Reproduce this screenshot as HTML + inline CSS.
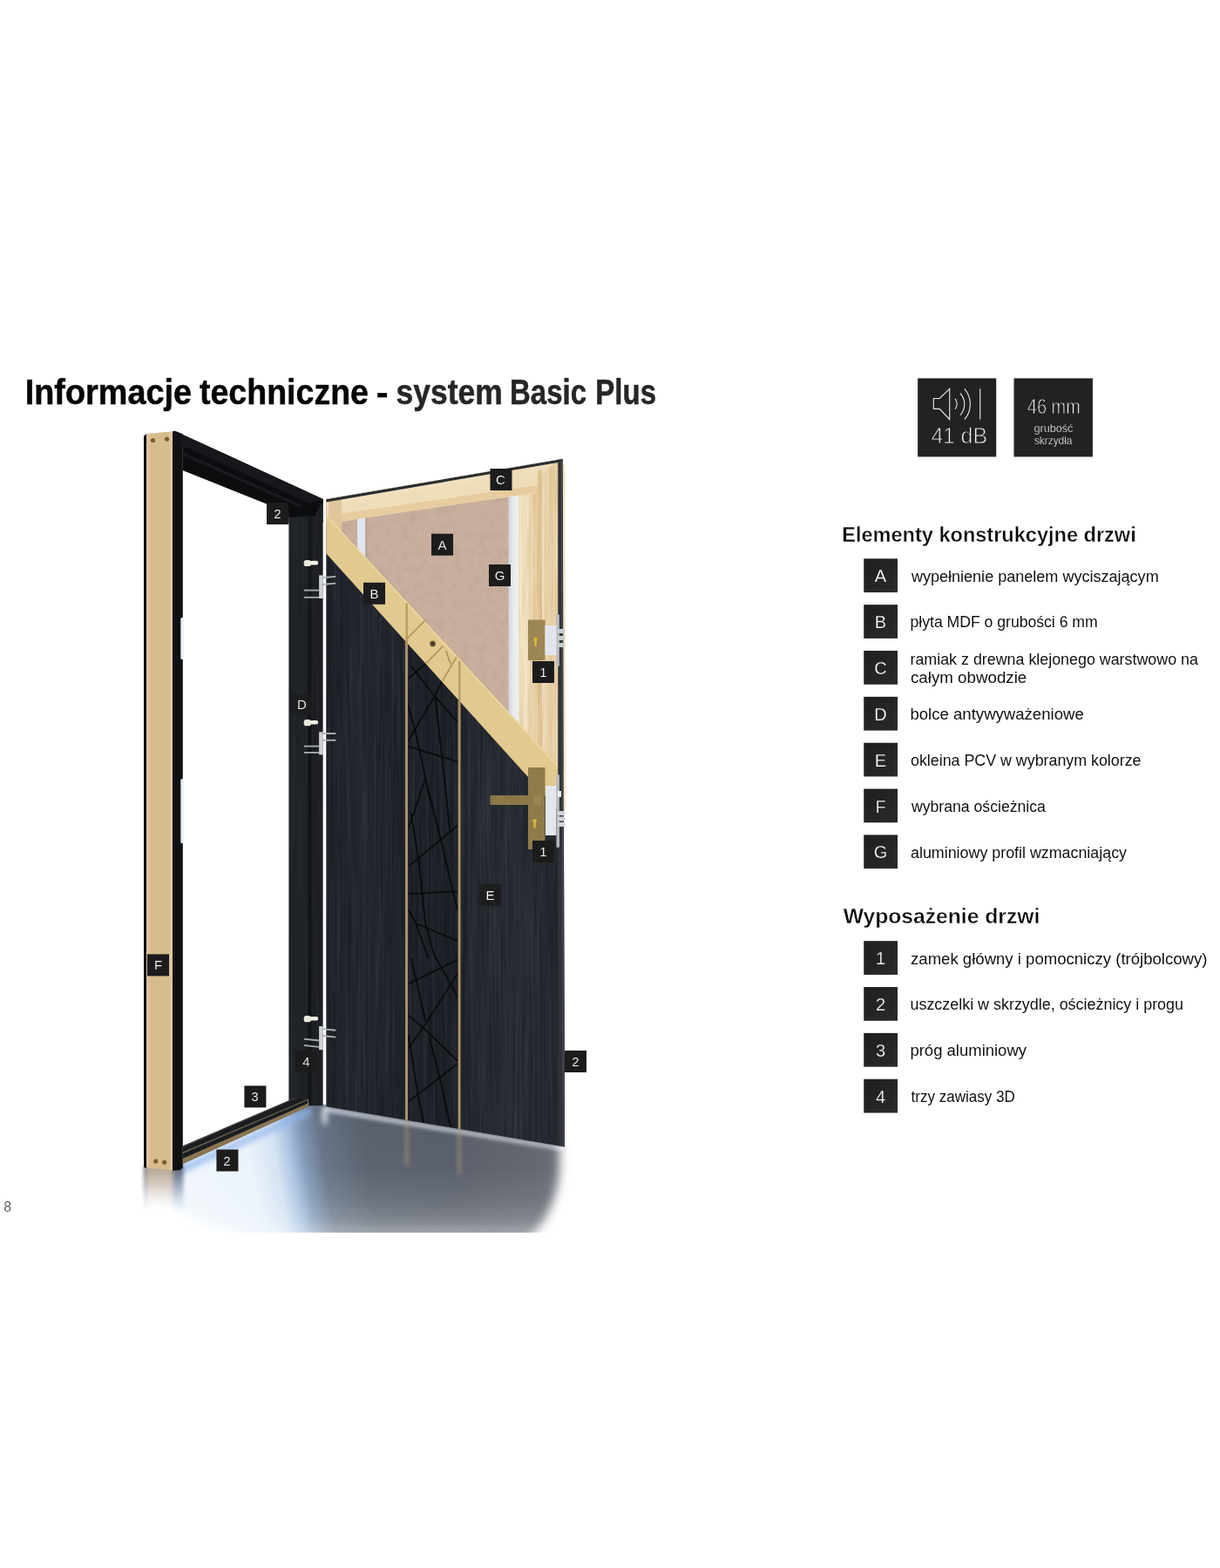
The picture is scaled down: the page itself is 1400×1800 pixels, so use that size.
<!DOCTYPE html>
<html lang="pl"><head><meta charset="utf-8"><title>Informacje techniczne - system Basic Plus</title>
<style>
html,body{margin:0;padding:0;background:#fff;}
body{width:1400px;height:1800px;overflow:hidden;position:relative;font-family:"Liberation Sans",sans-serif;color:#000;}
.page{position:absolute;left:0;top:0;width:1400px;height:1800px;overflow:hidden;background:#fff;}
svg.door{position:absolute;left:0;top:0;}
h1{position:absolute;left:0;margin:0;width:800px;height:48px;font-size:40px;line-height:48px;font-weight:bold;white-space:nowrap;color:#060606}
h1 .tw{position:absolute;left:0;top:0;display:block;transform-origin:0 0;-webkit-text-stroke:0.5px #060606;}
h1 .g{color:#262626;-webkit-text-stroke:0.5px #262626;}
h2{position:absolute;left:0;top:0;margin:0;font-size:24px;line-height:28px;font-weight:bold;white-space:nowrap;transform-origin:0 0;color:#0a0a0a;-webkit-text-stroke:0.35px #fff;}
.dl{position:absolute;width:25px;height:25px;color:#fff;font-size:15px;line-height:25.8px;text-align:center;-webkit-text-stroke:0.15px #1c1c1d;}
.dl span,.lb span{display:block;transform:translateZ(0);}
.ib svg{display:block;transform:translateZ(0);}
.lb{position:absolute;left:991px;width:39px;height:39px;color:#fff;font-size:20px;line-height:40.5px;text-align:center;-webkit-text-stroke:0.25px #242424;}
.lt{position:absolute;left:0;top:0;font-size:17.5px;line-height:20px;white-space:nowrap;transform-origin:0 0;color:#111;}
.ib{position:absolute;top:430px;width:100px;height:100px;}
.pn{position:absolute;left:0;top:0;font-size:16px;line-height:18px;color:#3a3a3a;transform:translate3d(4.2px,1377px,0);-webkit-text-stroke:0.2px #fff;}
</style></head><body>
<div class="page">
<svg class="door" width="1400" height="1800" viewBox="0 0 1400 1800">
<defs>
<linearGradient id="gFloorH" gradientUnits="userSpaceOnUse" x1="175" y1="0" x2="675" y2="0" gradientTransform="translate(0 1415) skewX(9) translate(0 -1415)">
 <stop offset="0" stop-color="#f6f9fd"/>
 <stop offset="0.10" stop-color="#f1f6fc"/>
 <stop offset="0.25" stop-color="#eaf2fb"/>
 <stop offset="0.31" stop-color="#d4e2f2"/>
 <stop offset="0.345" stop-color="#a9c2e0"/>
 <stop offset="0.375" stop-color="#8199b8"/>
 <stop offset="0.42" stop-color="#667385"/>
 <stop offset="0.52" stop-color="#58606c"/>
 <stop offset="0.72" stop-color="#575d68"/>
 <stop offset="0.90" stop-color="#60646c"/>
 <stop offset="1" stop-color="#6c7078"/>
</linearGradient>
<linearGradient id="gFloorV" gradientUnits="userSpaceOnUse" x1="0" y1="1270" x2="0" y2="1415">
 <stop offset="0" stop-color="#fff" stop-opacity="0"/>
 <stop offset="0.5" stop-color="#fff" stop-opacity="0.03"/>
 <stop offset="0.75" stop-color="#fff" stop-opacity="0.12"/>
 <stop offset="0.9" stop-color="#fff" stop-opacity="0.24"/>
 <stop offset="1" stop-color="#fff" stop-opacity="0.42"/>
</linearGradient>
<radialGradient id="gFadeR" gradientUnits="userSpaceOnUse" cx="700" cy="1430" r="160" gradientTransform="translate(700 1430) scale(1 1.0) translate(-700 -1430)">
 <stop offset="0" stop-color="#fff" stop-opacity="1"/>
 <stop offset="0.45" stop-color="#fff" stop-opacity="1"/>
 <stop offset="1" stop-color="#fff" stop-opacity="0"/>
</radialGradient>
<radialGradient id="gFadeL" gradientUnits="userSpaceOnUse" cx="150" cy="1440" r="190">
 <stop offset="0" stop-color="#fff" stop-opacity="1"/>
 <stop offset="0.5" stop-color="#fff" stop-opacity="1"/>
 <stop offset="1" stop-color="#fff" stop-opacity="0"/>
</radialGradient>
<linearGradient id="gReflB" gradientUnits="userSpaceOnUse" x1="0" y1="1342" x2="0" y2="1388">
 <stop offset="0" stop-color="#b5a48f" stop-opacity="0.95"/>
 <stop offset="0.35" stop-color="#c4b6a6" stop-opacity="0.75"/>
 <stop offset="1" stop-color="#e0dad4" stop-opacity="0"/>
</linearGradient>
<linearGradient id="gReflK" gradientUnits="userSpaceOnUse" x1="0" y1="1342" x2="0" y2="1392">
 <stop offset="0" stop-color="#5a6272" stop-opacity="0.95"/>
 <stop offset="0.4" stop-color="#8090a8" stop-opacity="0.7"/>
 <stop offset="1" stop-color="#b0c4e0" stop-opacity="0"/>
</linearGradient>
<linearGradient id="gBox" x1="0" y1="0" x2="1" y2="1"><stop offset="0" stop-color="#1e1e1e"/><stop offset="1" stop-color="#2b2b2b"/></linearGradient>
<linearGradient id="gDoor" gradientUnits="userSpaceOnUse" x1="374" y1="0" x2="646" y2="0">
 <stop offset="0" stop-color="#1f2228"/>
 <stop offset="0.15" stop-color="#25282f"/>
 <stop offset="0.33" stop-color="#20232a"/>
 <stop offset="0.56" stop-color="#1e2127"/>
 <stop offset="0.62" stop-color="#272a31"/>
 <stop offset="0.8" stop-color="#2a2d34"/>
 <stop offset="1" stop-color="#25282e"/>
</linearGradient>
<linearGradient id="gBeige" gradientUnits="userSpaceOnUse" x1="168" y1="0" x2="198.2" y2="0">
 <stop offset="0" stop-color="#dfc89e"/>
 <stop offset="0.12" stop-color="#dcc294"/>
 <stop offset="0.16" stop-color="#d6bb8b"/>
 <stop offset="0.86" stop-color="#d7bc8d"/>
 <stop offset="0.9" stop-color="#e0c89f"/>
 <stop offset="1" stop-color="#dcc397"/>
</linearGradient>
<linearGradient id="gPost" gradientUnits="userSpaceOnUse" x1="331" y1="0" x2="371" y2="0">
 <stop offset="0" stop-color="#191b1f"/>
 <stop offset="0.08" stop-color="#1f2226"/>
 <stop offset="0.55" stop-color="#1e2125"/>
 <stop offset="0.575" stop-color="#101114"/>
 <stop offset="0.64" stop-color="#121316"/>
 <stop offset="0.68" stop-color="#1c1e22"/>
 <stop offset="1" stop-color="#1b1d21"/>
</linearGradient>
<linearGradient id="gPine" gradientUnits="userSpaceOnUse" x1="595" y1="0" x2="640" y2="0">
 <stop offset="0" stop-color="#f3e6cb"/>
 <stop offset="0.25" stop-color="#efdcba"/>
 <stop offset="0.45" stop-color="#e8cfa4"/>
 <stop offset="0.6" stop-color="#f0dfbd"/>
 <stop offset="0.8" stop-color="#e8d0a6"/>
 <stop offset="1" stop-color="#ead4ad"/>
</linearGradient>
<linearGradient id="gAlu" gradientUnits="userSpaceOnUse" x1="584" y1="0" x2="596" y2="0">
 <stop offset="0" stop-color="#cfd6e0"/>
 <stop offset="0.4" stop-color="#e6eaf0"/>
 <stop offset="1" stop-color="#f3f1ec"/>
</linearGradient>
<filter id="blur6" filterUnits="userSpaceOnUse" x="0" y="400" width="1400" height="1100"><feGaussianBlur stdDeviation="6"/></filter>
<filter id="blur3" filterUnits="userSpaceOnUse" x="0" y="400" width="1400" height="1100"><feGaussianBlur stdDeviation="3"/></filter>
<filter id="blur2" filterUnits="userSpaceOnUse" x="0" y="400" width="1400" height="1100"><feGaussianBlur stdDeviation="2"/></filter>
<filter id="blur8" filterUnits="userSpaceOnUse" x="0" y="400" width="1400" height="1100"><feGaussianBlur stdDeviation="6"/></filter>
<mask id="mFloor" maskUnits="userSpaceOnUse" x="100" y="1100" width="650" height="400">
 <g filter="url(#blur8)"><path d="M173,1150 V1318 A95,95 0 0 0 268,1413 V1460 H562 V1440 A80,105 0 0 0 642,1335 V1150 Z" fill="#fff"/></g>
</mask>
<filter id="grain" filterUnits="userSpaceOnUse" x="320" y="500" width="340" height="840" color-interpolation-filters="sRGB">
 <feTurbulence type="fractalNoise" baseFrequency="0.3 0.006" numOctaves="3" seed="7" result="n"/>
 <feColorMatrix in="n" type="matrix" values="0 0 0 0 0.62  0 0 0 0 0.66  0 0 0 0 0.74  2.2 0 0 0 -0.95"/>
 <feComposite in2="SourceGraphic" operator="in"/>
</filter>
<filter id="grainD" filterUnits="userSpaceOnUse" x="320" y="500" width="340" height="840" color-interpolation-filters="sRGB">
 <feTurbulence type="fractalNoise" baseFrequency="0.35 0.008" numOctaves="3" seed="23" result="n"/>
 <feColorMatrix in="n" type="matrix" values="0 0 0 0 0.02  0 0 0 0 0.02  0 0 0 0 0.03  0 2.2 0 0 -0.9"/>
 <feComposite in2="SourceGraphic" operator="in"/>
</filter>
<filter id="grainM" filterUnits="userSpaceOnUse" x="360" y="500" width="300" height="420" color-interpolation-filters="sRGB">
 <feTurbulence type="fractalNoise" baseFrequency="0.1 0.1" numOctaves="3" seed="11" result="n"/>
 <feColorMatrix in="n" type="matrix" values="0 0 0 0 0.55  0 0 0 0 0.45  0 0 0 0 0.4  2.4 0 0 0 -1.0"/>
 <feComposite in2="SourceGraphic" operator="in"/>
</filter>
<filter id="grainP" filterUnits="userSpaceOnUse" x="360" y="500" width="300" height="420" color-interpolation-filters="sRGB">
 <feTurbulence type="fractalNoise" baseFrequency="0.4 0.01" numOctaves="3" seed="5" result="n"/>
 <feColorMatrix in="n" type="matrix" values="0 0 0 0 0.72  0 0 0 0 0.56  0 0 0 0 0.34  2.0 0 0 0 -0.85"/>
 <feComposite in2="SourceGraphic" operator="in"/>
</filter>
<filter id="blur14" filterUnits="userSpaceOnUse" x="0" y="400" width="1400" height="1100"><feGaussianBlur stdDeviation="12"/></filter>
<filter id="blur1"><feGaussianBlur stdDeviation="0.6"/></filter>
<clipPath id="clipFloor"><rect x="140" y="1240" width="560" height="175"/></clipPath>
<clipPath id="clipFloor2"><polygon points="140,1336 198,1341 210,1333 354,1268 372,1268 648,1314.5 700,1314.5 700,1420 140,1420"/></clipPath>
<clipPath id="clipPanel"><polygon points="468.2,739.3 525.6,802.9 525.6,1300 468.2,1290"/></clipPath>
<clipPath id="clipBand"><polygon points="374,589.9 650,888.8 650,940.8 374,634.9"/></clipPath>
<clipPath id="clipDoor"><polygon points="374.3,573 377,572.6 645.8,526.8 648,1316.5 374.3,1270.3"/></clipPath>
</defs>
<g clip-path="url(#clipFloor)"><g clip-path="url(#clipFloor2)"><g mask="url(#mFloor)">
<rect x="140" y="1240" width="560" height="180" fill="url(#gFloorH)"/>
<rect x="140" y="1240" width="560" height="180" fill="url(#gFloorV)"/>
<path d="M372,1270.5 L646,1316.5 L646,1321 L372,1276 Z" fill="#d5dbe3" opacity="0.8" filter="url(#blur2)"/>
<ellipse cx="372.6" cy="1281" rx="2.6" ry="11" fill="#ffffff" opacity="0.9" filter="url(#blur3)"/>
<path d="M205,1339 L356,1272 L356,1280 L205,1349 Z" fill="#8fb6ea" opacity="0.75" filter="url(#blur3)"/>
<rect x="464.5" y="1288" width="4" height="50" fill="#b39c78" opacity="0.5" filter="url(#blur2)"/>
<rect x="525" y="1298" width="4" height="50" fill="#b39c78" opacity="0.5" filter="url(#blur2)"/>
</g>
<g filter="url(#blur2)"><rect x="165" y="1338" width="3.5" height="50" fill="url(#gReflK)"/><rect x="168.2" y="1338" width="30" height="52" fill="url(#gReflB)"/><rect x="198" y="1338" width="12.5" height="56" fill="url(#gReflK)"/></g>
</g></g>
<polygon points="165.0,500.4 168.3,498.0 168.3,1341.0 165.0,1340.0" fill="#0b0b0d" />
<polygon points="168.2,498.0 198.2,495.3 198.2,1343.5 168.2,1340.5" fill="url(#gBeige)" />
<circle cx="175.5" cy="505.5" r="2.6" fill="#7d5a30"/>
<circle cx="191.5" cy="504.0" r="2.6" fill="#7d5a30"/>
<circle cx="178.7" cy="1333.1" r="2.6" fill="#7d5a30"/>
<circle cx="188.7" cy="1334.3" r="2.6" fill="#7d5a30"/>
<polygon points="198.0,495.2 200.3,494.4 209.8,498.8 209.8,1340.5 207.0,1343.0 198.0,1344.0" fill="#101113" />
<polygon points="200.3,494.4 370.6,572.8 370.6,600.0 331.4,600.0 331.4,588.7 209.7,539.9 209.7,498.0" fill="#0c0d0f" />
<polygon points="205.0,497.5 370.6,573.5 370.6,580.0 368.0,584.0 214.0,513.5 209.7,513.5" fill="#17181b" />
<polygon points="209.7,519.0 352.0,582.5 352.0,586.0 209.7,523.0" fill="#1a1b1e" />
<polygon points="331.4,588.0 370.6,574.0 370.6,1269.3 354.3,1269.3 354.0,1262.0 331.4,1264.0" fill="url(#gPost)" />
<polygon points="331.4,588.0 370.6,574.0 370.6,1269.3 354.3,1269.3 354.0,1262.0 331.4,1264.0" fill="#fff" filter="url(#grain)" opacity="0.06"/>
<polygon points="331.4,586.0 370.6,572.8 370.6,577.0 366.0,582.0 362.0,592.0 331.4,594.0" fill="#0c0d0f" />
<polygon points="209.7,1315.5 339.3,1260.0 353.6,1260.7 353.6,1270.0 209.7,1336.0" fill="#1c1d21" />
<polygon points="209.7,1315.5 339.3,1260.0 341.0,1260.3 209.7,1317.0" fill="#4a4a44" />
<polygon points="209.7,1322.6 353.6,1261.6 353.6,1262.8 209.7,1324.2" fill="#6b6552" />
<polygon points="209.7,1330.0 353.6,1266.5 353.6,1270.3 209.7,1336.3" fill="#8a7552" />
<rect x="207.3" y="709" width="3.2" height="48" rx="1.5" fill="#e8f0f8"/>
<rect x="207.3" y="894" width="3.2" height="74" rx="1.5" fill="#e3eef8"/>
<g clip-path="url(#clipDoor)">
<rect x="370" y="520" width="280" height="800" fill="url(#gDoor)"/>
<rect x="370" y="520" width="280" height="800" fill="#fff" filter="url(#grain)" opacity="0.10"/>
<rect x="370" y="520" width="280" height="800" fill="#fff" filter="url(#grainD)" opacity="0.25"/>
<polygon points="374.3,560.0 646.0,520.0 646.0,884.5 375.0,591.0" fill="#c9af9e" />
<polygon points="374.3,560.0 646.0,520.0 646.0,884.5 375.0,591.0" fill="#fff" filter="url(#grainM)" opacity="0.1"/>
<polygon points="374.0,570.0 646.0,524.0 646.0,560.9 374.0,601.2" fill="#efdcb8" />
<polygon points="374.0,592.2 596.0,560.3 596.0,568.3 374.0,601.2" fill="#e6cc9e" />
<polygon points="374.0,575.0 596.0,538.0 596.0,544.0 374.0,581.0" fill="#f1e0bf" />
<polygon points="377.0,574.0 392.0,572.0 392.0,620.0 377.0,600.0" fill="#e0c69c" />
<polygon points="410.0,595.8 419.5,594.4 419.5,645.0 410.0,635.0" fill="#dfe5ee" />
<polygon points="419.5,594.4 420.6,594.3 420.6,645.0 419.5,645.0" fill="#a39587" />
<polygon points="583.5,570.2 595.5,568.4 595.5,835.0 583.5,822.0" fill="url(#gAlu)" />
<polygon points="595.5,566.4 640.5,528.0 640.5,885.0 595.5,835.0" fill="url(#gPine)" />
<polygon points="617.0,540.0 622.0,539.0 622.0,870.0 617.0,865.0" fill="#dcc08e" opacity="0.8"/>
<polygon points="601.0,570.0 606.0,570.0 606.0,850.0 601.0,845.0" fill="#f4e6c8" opacity="0.8"/>
<polygon points="595.5,566.4 640.5,528.0 640.5,885.0 595.5,835.0" fill="#fff" filter="url(#grainP)" opacity="0.35"/>
<polygon points="560.0,543.5 617.0,534.0 617.0,566.2 560.0,573.6" fill="#efdcb8" />
<polygon points="560.0,564.6 617.0,557.2 617.0,565.2 560.0,573.6" fill="#e6cc9e" />
<polygon points="374.0,589.9 650.0,888.8 650.0,940.8 374.0,634.9" fill="#e1c98f" />
<polygon points="374.0,589.9 650.0,888.8 650.0,891.8 374.0,592.4" fill="#ecd6a2" />
<rect x="465" y="736.9" width="3" height="700" fill="#a8916a"/>
<rect x="525.6" y="804.5" width="3" height="700" fill="#a8916a"/>
<rect x="465.6" y="692.6" width="2.2" height="44.3" fill="#b59a5c"/>
<rect x="526.2" y="758.6" width="2.2" height="45.9" fill="#b59a5c"/>
<g fill="none" stroke="#08090b" stroke-width="1.9" stroke-opacity="0.9" stroke-linecap="butt" clip-path="url(#clipPanel)">
<polyline points="468.3,778.9 488.3,762.2"/>
<polyline points="468.3,851.1 499.4,797.8 506.7,783.3"/>
<polyline points="471.7,764.4 499.4,800.0 525.0,828.9"/>
<polyline points="499.4,800.0 507.2,868.9 512.8,920.0 516.1,953.3"/>
<polyline points="468.3,808.9 477.2,842.2 488.3,893.3 493.9,920.0"/>
<polyline points="468.3,856.7 525.0,874.4"/>
<polyline points="488.3,893.3 479.4,920.0 468.9,950.0"/>
<polyline points="489.4,900.0 503.9,955.6 519.4,1022.2 525.0,1044.4"/>
<polyline points="525.0,947.8 468.9,994.4"/>
<polyline points="471.7,933.3 480.6,988.9 488.3,1061.1 499.4,1100.0 500.6,1100.0 525.0,1144.4"/>
<polyline points="468.9,1026.1 525.0,1023.3"/>
<polyline points="468.9,1044.4 477.2,1060.0 525.0,1080.0"/>
<polyline points="477.2,1060.0 491.7,1100.0"/>
<polyline points="525.0,1101.7 468.9,1129.4"/>
<polyline points="471.7,1100.0 478.3,1127.8 488.3,1172.2"/>
<polyline points="525.0,1117.8 488.3,1175.6 468.9,1203.3"/>
<polyline points="468.9,1165.6 488.3,1182.2 525.0,1217.8"/>
<polyline points="525.0,1221.1 468.9,1264.4"/>
<polyline points="492.8,1191.1 505.0,1238.9 517.2,1294.4"/>
<polyline points="468.9,1188.9 479.4,1255.6 486.1,1288.9"/>
</g>
<g fill="none" stroke="#b3985a" stroke-width="1.9" clip-path="url(#clipBand)">
<polyline points="467.4,732.9 487.5,712.7"/>
<polyline points="488.3,762.2 508.3,741.7"/>
<polyline points="506.7,783.3 523.9,754.4"/>
<polyline points="511.7,746.7 517.2,762.2"/>
</g>
<polygon points="374.0,573.2 646.0,526.7 646.0,530.0 374.0,576.5" fill="#2b2d31" />
<polygon points="640.3,520.0 649.0,520.0 649.0,1320.0 640.3,1320.0" fill="#2f3236" />
<polygon points="643.6,520.0 644.8,520.0 647.0,1320.0 645.8,1320.0" fill="#4a4d52" />
</g>
<polygon points="646.0,532.0 648.4,534.0 649.0,930.0 646.8,930.0" fill="#ecd9b4" opacity="0.75"/>
<rect x="606" y="711.5" width="19.5" height="46.5" fill="#9c8653"/>
<rect x="625.5" y="718" width="14" height="34" fill="#e2e6ec"/>
<rect x="638.5" y="705" width="3.4" height="60" rx="1.5" fill="#b9bcc0"/>
<rect x="640" y="722" width="8" height="5" rx="1.5" fill="#c9ccd0"/><rect x="640" y="730" width="8" height="5" rx="1.5" fill="#c9ccd0"/><rect x="640" y="738" width="8" height="5" rx="1.5" fill="#c9ccd0"/>
<circle cx="614.5" cy="734" r="2.3" fill="#d9b640"/><rect x="613.2" y="734" width="2.6" height="8" rx="1.2" fill="#d9b640"/>
<rect x="606" y="881" width="19.5" height="94" fill="#8f7b4a"/>
<rect x="562.5" y="913" width="58.5" height="11" fill="#8b7846"/>
<rect x="612" y="913" width="9" height="11" fill="#9a8654"/>
<rect x="626" y="902" width="12.5" height="57" fill="#e3e7ed"/>
<rect x="638.5" y="889" width="3.5" height="84" rx="1.5" fill="#b4b8bc"/>
<rect x="640" y="908" width="4" height="7" fill="#eef0f2"/>
<rect x="640" y="931" width="8.5" height="5" rx="1.5" fill="#d0d3d6"/><rect x="640" y="937.5" width="8.5" height="5" rx="1.5" fill="#d0d3d6"/><rect x="640" y="944" width="8.5" height="5" rx="1.5" fill="#d0d3d6"/>
<circle cx="613.5" cy="942.5" r="2.3" fill="#d9b640"/><rect x="612.2" y="942.5" width="2.6" height="8" rx="1.2" fill="#d9b640"/>
<circle cx="496.6" cy="739" r="3.4" fill="#6a5a3c"/><circle cx="496.6" cy="739" r="1.8" fill="#3a3226"/>
<rect x="348.7" y="642.9" width="8.2" height="7.2" rx="2.6" fill="#e9ead9"/>
<rect x="355.5" y="643.8" width="9.6" height="4.6" rx="2" fill="#f1f2e6"/>
<rect x="366.1" y="660.4" width="4.6" height="26.6" fill="#cfd1d4"/>
<rect x="369.5" y="662.3" width="15.8" height="1.9" fill="#aeb2b6" transform="rotate(-5.0 369.5 663.2)"/>
<rect x="369.5" y="670.0" width="15.8" height="1.9" fill="#aeb2b6" transform="rotate(-5.0 369.5 670.9)"/>
<rect x="349" y="676.7" width="17.2" height="1.9" fill="#a4a8ad" transform="rotate(0.0 357.6 677.6)"/>
<rect x="349" y="684.8" width="17.2" height="1.9" fill="#a4a8ad" transform="rotate(0.0 357.6 685.7)"/>
<rect x="348.7" y="826.1" width="8.2" height="7.2" rx="2.6" fill="#e9ead9"/>
<rect x="355.5" y="827.0" width="9.6" height="4.6" rx="2" fill="#f1f2e6"/>
<rect x="366.1" y="840.3" width="4.6" height="26.1" fill="#cfd1d4"/>
<rect x="369.5" y="841.1" width="15.8" height="1.9" fill="#aeb2b6" transform="rotate(0.0 369.5 842.0)"/>
<rect x="369.5" y="848.8" width="15.8" height="1.9" fill="#aeb2b6" transform="rotate(0.0 369.5 849.7)"/>
<rect x="349" y="855.7" width="17.2" height="1.9" fill="#a4a8ad" transform="rotate(0.0 357.6 856.6)"/>
<rect x="349" y="863.0" width="17.2" height="1.9" fill="#a4a8ad" transform="rotate(0.0 357.6 863.9)"/>
<rect x="348.7" y="1166.1" width="8.2" height="7.2" rx="2.6" fill="#e9ead9"/>
<rect x="355.5" y="1167.0" width="9.6" height="4.6" rx="2" fill="#f1f2e6"/>
<rect x="366.1" y="1178.1" width="4.6" height="27.1" fill="#cfd1d4"/>
<rect x="369.5" y="1180.2" width="15.8" height="1.9" fill="#aeb2b6" transform="rotate(6.0 369.5 1181.1)"/>
<rect x="369.5" y="1188.0" width="15.8" height="1.9" fill="#aeb2b6" transform="rotate(6.0 369.5 1188.9)"/>
<rect x="349" y="1192.7" width="17.2" height="1.9" fill="#a4a8ad" transform="rotate(6.0 357.6 1193.6)"/>
<rect x="349" y="1200.0" width="17.2" height="1.9" fill="#a4a8ad" transform="rotate(6.0 357.6 1200.9)"/>
<rect x="1053.1" y="434.3" width="90.1" height="90.1" fill="#222223"/>
<rect x="1163.5" y="434.3" width="90.4" height="90.1" fill="#222223"/>
<rect x="306.0" y="577.0" width="25" height="25" fill="#1c1c1d" fill-opacity="1.00"/>
<rect x="562.5" y="538.0" width="25" height="25" fill="#1c1c1d" fill-opacity="1.00"/>
<rect x="495.0" y="612.7" width="25" height="25" fill="#1c1c1d" fill-opacity="1.00"/>
<rect x="561.0" y="648.0" width="25" height="25" fill="#1c1c1d" fill-opacity="1.00"/>
<rect x="417.0" y="668.8" width="25" height="25" fill="#1c1c1d" fill-opacity="1.00"/>
<rect x="611.0" y="759.0" width="25" height="25" fill="#1c1c1d" fill-opacity="1.00"/>
<rect x="333.6" y="796.0" width="25" height="25" fill="#1c1c1d" fill-opacity="0.85"/>
<rect x="611.0" y="965.0" width="25" height="25" fill="#1c1c1d" fill-opacity="1.00"/>
<rect x="550.0" y="1015.0" width="25" height="25" fill="#1c1c1d" fill-opacity="0.85"/>
<rect x="169.0" y="1095.4" width="25" height="25" fill="#1c1c1d" fill-opacity="1.00"/>
<rect x="339.0" y="1206.0" width="25" height="25" fill="#1c1c1d" fill-opacity="0.90"/>
<rect x="648.0" y="1206.0" width="25" height="25" fill="#1c1c1d" fill-opacity="1.00"/>
<rect x="280.4" y="1246.4" width="25" height="25" fill="#1c1c1d" fill-opacity="1.00"/>
<rect x="248.4" y="1319.6" width="25" height="25" fill="#1c1c1d" fill-opacity="1.00"/>
<rect x="991.25" y="641.30" width="38.75" height="38.75" fill="url(#gBox)"/>
<rect x="991.25" y="694.15" width="38.75" height="38.75" fill="url(#gBox)"/>
<rect x="991.25" y="747.00" width="38.75" height="38.75" fill="url(#gBox)"/>
<rect x="991.25" y="799.85" width="38.75" height="38.75" fill="url(#gBox)"/>
<rect x="991.25" y="852.70" width="38.75" height="38.75" fill="url(#gBox)"/>
<rect x="991.25" y="905.55" width="38.75" height="38.75" fill="url(#gBox)"/>
<rect x="991.25" y="958.40" width="38.75" height="38.75" fill="url(#gBox)"/>
<rect x="991.25" y="1080.20" width="38.75" height="38.75" fill="url(#gBox)"/>
<rect x="991.25" y="1133.05" width="38.75" height="38.75" fill="url(#gBox)"/>
<rect x="991.25" y="1185.90" width="38.75" height="38.75" fill="url(#gBox)"/>
<rect x="991.25" y="1238.75" width="38.75" height="38.75" fill="url(#gBox)"/>
</svg>
<h1 style="top:425.80px"><span class="tw" style="transform:translate3d(28.74px,0,0) scaleX(0.9457)">Informacje</span> <span class="tw" style="transform:translate3d(229.00px,0,0) scaleX(0.9382)">techniczne</span> <span class="tw" style="transform:translate3d(431.71px,0,0) scaleX(1.0353)">-</span> <span class="tw g" style="transform:translate3d(454.59px,0,0) scaleX(0.8861)">system</span> <span class="tw g" style="transform:translate3d(585.04px,0,0) scaleX(0.8243)">Basic</span> <span class="tw g" style="transform:translate3d(683.34px,0,0) scaleX(0.8251)">Plus</span></h1>
<div class="dl" style="left:306px;top:577px"><span>2</span></div>
<div class="dl" style="left:562px;top:538px"><span>C</span></div>
<div class="dl" style="left:495px;top:613px"><span>A</span></div>
<div class="dl" style="left:561px;top:648px"><span>G</span></div>
<div class="dl" style="left:417px;top:669px"><span>B</span></div>
<div class="dl" style="left:611px;top:759px"><span>1</span></div>
<div class="dl" style="left:334px;top:796px"><span>D</span></div>
<div class="dl" style="left:611px;top:965px"><span>1</span></div>
<div class="dl" style="left:550px;top:1015px"><span>E</span></div>
<div class="dl" style="left:169px;top:1095px"><span>F</span></div>
<div class="dl" style="left:339px;top:1206px"><span>4</span></div>
<div class="dl" style="left:648px;top:1206px"><span>2</span></div>
<div class="dl" style="left:280px;top:1246px"><span>3</span></div>
<div class="dl" style="left:248px;top:1320px"><span>2</span></div>
<div class="ib" style="left:1050px">
<svg width="100" height="100" viewBox="-3 -4 100 100">
<g fill="none" stroke="#ededed" stroke-width="1.1" stroke-linejoin="miter">
<path d="M18.3,23.5 H25.2 L36.7,12.4 V47.5 L25.2,35.4 H18.3 Z"/>
<path d="M43.0,23.6 A9.5,9.5 0 0 1 43.0,35.6"/>
<path d="M48.8,17.4 A18.5,18.5 0 0 1 48.8,42.6"/>
<path d="M53.8,12.3 A27,27 0 0 1 53.8,47.6"/>
<path d="M71.7,12.3 V47.6"/>
</g>
<text x="15.6 29 40 49.6 63.6" y="74.6" font-family="Liberation Sans, sans-serif" font-size="25" fill="#f2f2f2" stroke="#222223" stroke-width="0.8">41 dB</text>
</svg></div>
<div class="ib" style="left:1160px">
<svg width="100" height="100" viewBox="-3 -4 100 100">
<text x="46.3" y="41" text-anchor="middle" font-family="Liberation Sans, sans-serif" font-size="24" fill="#f2f2f2" stroke="#222223" stroke-width="0.8" textLength="61" lengthAdjust="spacingAndGlyphs">46 mm</text>
<text x="45.9" y="61.6" text-anchor="middle" font-family="Liberation Sans, sans-serif" font-size="13.5" fill="#ececec" stroke="#222223" stroke-width="0.25" textLength="45" lengthAdjust="spacingAndGlyphs">grubość</text>
<text x="45.7" y="75.5" text-anchor="middle" font-family="Liberation Sans, sans-serif" font-size="13.5" fill="#ececec" stroke="#222223" stroke-width="0.25" textLength="43.5" lengthAdjust="spacingAndGlyphs">skrzydła</text>
</svg></div>
<h2 style="transform:translate3d(966.23px,599.50px,0) scaleX(0.9807)">Elementy konstrukcyjne drzwi</h2>
<h2 style="transform:translate3d(967.70px,1037.50px,0) scaleX(1.0271)">Wyposażenie drzwi</h2>
<div class="lb" style="top:641px"><span>A</span></div>
<div class="lt" style="transform:translate3d(1045.88px,651.60px,0) scaleX(1.0310)">wypełnienie panelem wyciszającym</div>
<div class="lb" style="top:694px"><span>B</span></div>
<div class="lt" style="transform:translate3d(1044.50px,704.45px,0) scaleX(1.0057)">płyta MDF o grubości 6 mm</div>
<div class="lb" style="top:747px"><span>C</span></div>
<div class="lt" style="transform:translate3d(1044.48px,747.00px,0) scaleX(1.0201)">ramiak z drewna klejonego warstwowo na</div>
<div class="lt" style="transform:translate3d(1045.01px,767.75px,0) scaleX(1.0702)">całym obwodzie</div>
<div class="lb" style="top:800px"><span>D</span></div>
<div class="lt" style="transform:translate3d(1044.44px,810.15px,0) scaleX(1.0616)">bolce antywyważeniowe</div>
<div class="lb" style="top:853px"><span>E</span></div>
<div class="lt" style="transform:translate3d(1045.04px,863.00px,0) scaleX(1.0183)">okleina PCV w wybranym kolorze</div>
<div class="lb" style="top:906px"><span>F</span></div>
<div class="lt" style="transform:translate3d(1045.88px,915.85px,0) scaleX(1.0085)">wybrana ościeżnica</div>
<div class="lb" style="top:958px"><span>G</span></div>
<div class="lt" style="transform:translate3d(1045.04px,968.70px,0) scaleX(1.0198)">aluminiowy profil wzmacniający</div>
<div class="lb" style="top:1080px"><span>1</span></div>
<div class="lt" style="transform:translate3d(1045.02px,1090.50px,0) scaleX(1.0608)">zamek główny i pomocniczy (trójbolcowy)</div>
<div class="lb" style="top:1133px"><span>2</span></div>
<div class="lt" style="transform:translate3d(1044.48px,1143.35px,0) scaleX(1.0234)">uszczelki w skrzydle, ościeżnicy i progu</div>
<div class="lb" style="top:1186px"><span>3</span></div>
<div class="lt" style="transform:translate3d(1044.44px,1196.20px,0) scaleX(1.0562)">próg aluminiowy</div>
<div class="lb" style="top:1239px"><span>4</span></div>
<div class="lt" style="transform:translate3d(1045.60px,1249.05px,0) scaleX(0.9732)">trzy zawiasy 3D</div>
<div class="pn">8</div>
</div>
</body></html>
